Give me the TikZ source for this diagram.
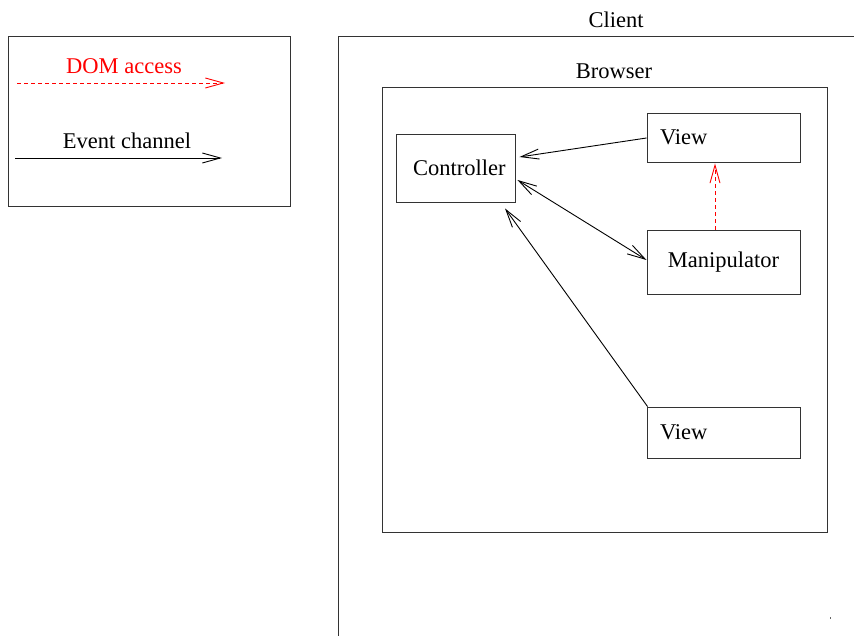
\documentclass[tikz,border=0pt]{standalone}
\usepackage{fontspec}
\setmainfont{Liberation Serif}
\usetikzlibrary{arrows.meta,calc}
\begin{document}
\begin{tikzpicture}[x=1pt,y=-1pt,
  box/.style={draw=black!80, line width=0.9pt, rectangle, inner sep=0pt},
  txt/.style={inner sep=0pt, font=\fontsize{22.5}{27}\selectfont},
  evt/.style={line width=0.9pt, -{Straight Barb[length=18pt,width=10pt]}},
  bevt/.style={line width=0.9pt, {Straight Barb[length=18pt,width=10pt]}-{Straight Barb[length=18pt,width=10pt]}},
  dom/.style={red, line width=0.9pt, dash pattern=on 4pt off 3pt, -{Straight Barb[length=18pt,width=10pt]}},
  leftbox/.style={box, txt, text width=127pt, align=left, inner xsep=13pt, inner ysep=0pt},
]
\useasboundingbox (0,0) rectangle (854,636);
\begin{scope}
\clip (0,0) rectangle (854,636);
% legend
\node[box, minimum width=282pt, minimum height=170pt] (legend) at (149,121) {};
\node[txt, text=red] (domlbl) at (124,66.5) {DOM access};
\node[txt] (evtlbl) at (127,140.5) {Event channel};
\coordinate (d1) at (17,83);
\coordinate (d2) at (225,83);
\coordinate (e1) at (15,158);
\coordinate (e2) at (222,158);
\draw[dom] (d1) -- (d2);
\draw[evt] (e1) -- (e2);
% client and browser
\node[box, minimum width=562pt, minimum height=664pt] (client) at (619,368) {};
\node[txt] (clientlbl) at (616,19.5) {Client};
\node[box, minimum width=445pt, minimum height=445pt] (browser) at (604.5,309.5) {};
\node[txt] (browserlbl) at (614,71.5) {Browser};
% components
\node[box, txt, text width=85pt, align=left, inner xsep=17pt, inner ysep=0pt, minimum height=68pt] (ctrl) at (455.5,168) {Controller};
\node[leftbox, minimum height=49pt] (viewt) at (723.5,137.5) {View};
\node[box, txt, minimum width=153pt, minimum height=64pt] (manip) at (723.5,262) {Manipulator};
\node[leftbox, minimum height=51pt] (viewb) at (723.5,432.5) {View};
% connectors
\draw[evt] ($(viewt.west)+(0,0.5)$) -- ($(ctrl.east)+(4,-11)$);
\draw[bevt] ($(ctrl.east)+(2,12)$) -- ($(manip.west)+(0,-2)$);
\draw[evt] ($(viewb.north west)+(1,0)$) -- ($(ctrl.south)+(49.5,6)$);
\draw[dom] ($(manip.north)+(-8.5,0)$) -- ($(viewt.south)+(-8.5,1)$);
% tiny mark
\fill[black!60] (830,617.3) rectangle (831.4,618.8);
\end{scope}
\end{tikzpicture}
\end{document}
